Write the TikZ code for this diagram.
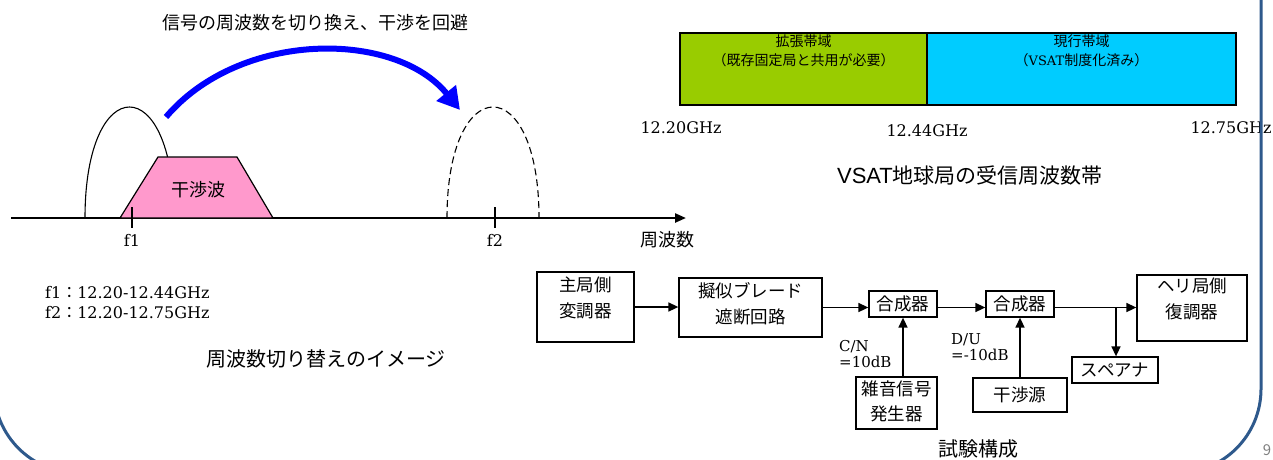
\documentclass[tikz,border=0pt]{standalone}
\usepackage{fontspec}
\setmainfont{DejaVu Serif}
\newfontfamily\jp{Noto Sans CJK JP}
\newfontfamily\ls{Liberation Sans}
\usetikzlibrary{arrows.meta}
\definecolor{bandgreen}{HTML}{99CC00}
\definecolor{bandcyan}{HTML}{00CCFF}
\definecolor{wavepink}{HTML}{FF99CC}
\definecolor{framecol}{HTML}{2E598C}
\newcommand\twoline[3][0pt]{\raisebox{#1}[\height][\depth]{\begin{tabular}{@{}c@{}}#2\\#3\end{tabular}}}
\begin{document}
\begin{tikzpicture}[x=1pt,y=-1pt,
  box/.style={draw, line width=1.3pt, inner sep=0pt, font=\jp\fontsize{17.5}{25.5}\selectfont},
  band/.style={draw, line width=1.4pt, inner sep=0pt, minimum height=72pt, font=\jp\fontsize{14}{19}\selectfont},
  flow/.style={line width=1.6pt, -{Triangle[length=10pt,width=9pt]}},
  axisline/.style={line width=2.3pt, -{Triangle[length=11pt,width=9pt]}},
  tickline/.style={line width=1.2pt},
  archline/.style={line width=1.1pt},
  serif16/.style={font=\fontsize{16}{19}\selectfont},
  jp18/.style={font=\jp\fontsize{18}{22}\selectfont},
  jp20/.style={font=\jp\fontsize{20}{24}\selectfont},
  val/.style={anchor=west, align=left, inner sep=0pt, font=\fontsize{15}{16}\selectfont}]
\useasboundingbox (0,0) rectangle (1273,459);

% ---------- frequency switching image ----------
\node[jp18] (title) at (315,23) {信号の周波数を切り換え、干渉を回避};
\coordinate (ax0) at (11,218);
\coordinate (ax1) at (686,218);
\draw[archline] (85,218) .. controls (85,70) and (174,70) .. (174,218);
\draw[axisline] (ax0) -- (ax1);
\draw[fill=wavepink, line width=1.2pt] (120,218) -- (158,157) -- (237,157) -- (273,218) -- cycle;
\node[jp18] (kw) at (198,190) {干渉波};
\draw[archline, dash pattern=on 7pt off 4pt] (447,218) .. controls (447,70) and (539,70) .. (539,218);
\draw[tickline] (132,207) -- (132,228);
\draw[tickline] (495,207) -- (495,228);
\node[serif16] (f1) at (132,240) {f1};
\node[serif16] (f2) at (495,240) {f2};
\node[jp18] (freq) at (667,240) {周波数};
\draw[line width=6pt, blue, -{Triangle[length=22pt,width=24pt]}] (166,117) .. controls (240,30) and (395,30) .. (460,110);
\node[anchor=west, align=left, inner sep=0pt, font=\fontsize{16}{20}\selectfont] (flist) at (45,303)
  {f1{\jp ：}12.20-12.44GHz\\f2{\jp ：}12.20-12.75GHz};
\node[jp20] (img) at (326,359) {周波数切り替えのイメージ};

% ---------- VSAT band ----------
\node[band, fill=bandgreen, minimum width=247pt] (ext) at (803.5,69)
  {\twoline[16.5pt]{拡張帯域}{（既存固定局と共用が必要）}};
\node[band, fill=bandcyan, minimum width=309pt] (cur) at (1081.5,69)
  {\twoline[16.5pt]{現行帯域}{（{\rmfamily\fontsize{13}{19}\selectfont VSAT}制度化済み）}};
\node[serif16] (g1) at (681,128) {12.20GHz};
\node[serif16] (g2) at (927,131) {12.44GHz};
\node[serif16] (g3) at (1231,128) {12.75GHz};
\node (vt) at (970,176) {{\ls\fontsize{22}{26}\selectfont VSAT}{\jp\fontsize{21}{26}\selectfont 地球局の受信周波数帯}};

% ---------- test setup ----------
\node[box, minimum width=97pt, minimum height=70pt] (zhu) at (585.5,307) {\twoline[7.5pt]{主局側}{変調器}};
\node[box, minimum width=143pt, minimum height=59pt] (gisi) at (750.5,307.5) {\twoline[2pt]{擬似ブレード}{遮断回路}};
\node[box, minimum width=68pt, minimum height=26pt] (gs1) at (903,304) {合成器};
\node[box, minimum width=68pt, minimum height=26pt] (gs2) at (1020,304) {合成器};
\node[box, minimum width=110pt, minimum height=66pt] (heri) at (1192,308) {\twoline[7.5pt]{ヘリ局側}{復調器}};
\node[box, minimum width=81pt, minimum height=52pt] (zatsu) at (896.5,403) {\twoline{雑音信号}{発生器}};
\node[box, minimum width=94pt, minimum height=34pt] (kansho) at (1020,395) {干渉源};
\node[box, minimum width=86pt, minimum height=26pt] (spea) at (1115,370) {スペアナ};
\coordinate (br) at (1116,307.5);

\draw[flow] (zhu.east) -- (zhu.east -| gisi.west);
\draw[flow] (gisi.east) -- (gisi.east -| gs1.west);
\draw[flow] (gs1.east |- br) -- (gs2.west |- br);
\draw[flow] (gs2.east |- br) -- (heri.west |- br);
\draw[flow] (br) -- (br |- spea.north);
\draw[flow] (gs1.south |- zatsu.north) -- (gs1.south);
\draw[flow] (kansho.north) -- (gs2.south);

\node[val] (cn) at (839,354) {C/N\\=10dB};
\node[val] (du) at (951,347) {D/U\\=-10dB};
\node[jp20] (shiken) at (978,449) {試験構成};

% ---------- slide frame ----------
\draw[line width=3pt, framecol, rounded corners=84pt] (-6,-60) -- (-6,473) -- (1261,473) -- (1261,-60);
\node[text=gray, font=\jp\fontsize{15}{18}\selectfont, inner sep=0pt] (pg) at (1267,450) {9};
\end{tikzpicture}
\end{document}
